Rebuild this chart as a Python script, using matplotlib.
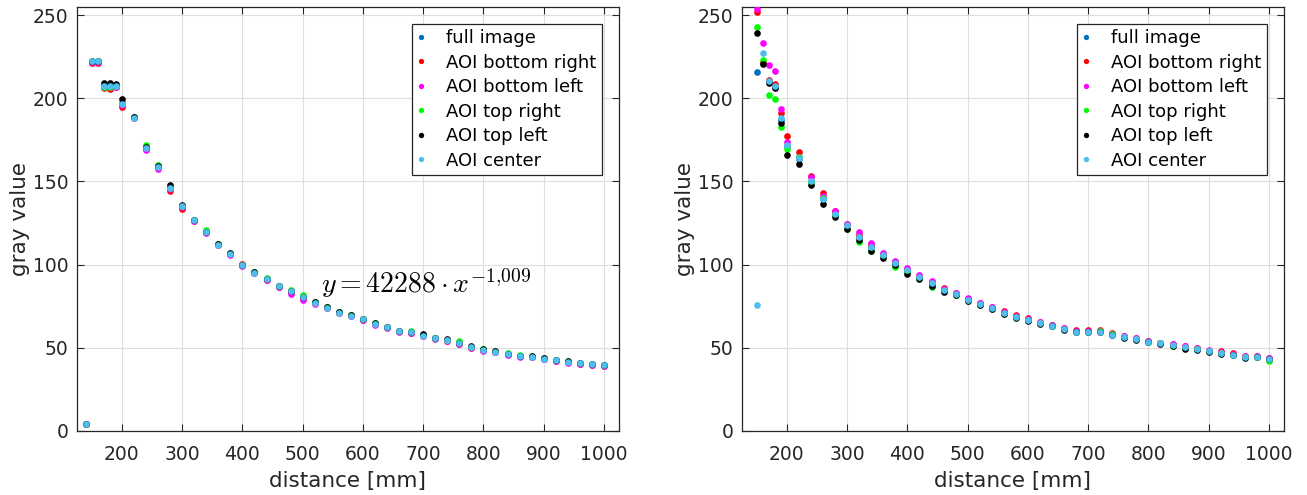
import matplotlib
matplotlib.use("Agg")
import matplotlib.pyplot as plt

plt.rcParams['font.family'] = ['DejaVu Sans']
plt.rcParams['mathtext.fontset'] = 'cm'

# ---------------- data ----------------
dist_left = [140, 150, 160, 170, 180, 190, 200, 220, 240, 260, 280, 300, 320, 340, 360, 380, 400,
             420, 440, 460, 480, 500, 520, 540, 560, 580, 600, 620, 640, 660, 680, 700, 720, 740,
             760, 780, 800, 820, 840, 860, 880, 900, 920, 940, 960, 980, 1000]

full_L = [4.0, 222.0, 222.0, 207.5, 207.5, 207.5, 197.0, 188.5, 170.0, 159.0, 146.5, 135.2, 126.8,
          119.8, 112.2, 106.6, 99.8, 95.3, 91.3, 87.1, 84.1, 80.6, 77.3, 74.4, 71.4, 69.6, 67.3,
          64.6, 62.4, 60.1, 59.3, 57.4, 55.8, 54.6, 52.8, 50.4, 48.9, 47.7, 46.3, 45.1, 44.6, 43.4,
          42.4, 41.7, 40.6, 40.0, 39.4]
br_L = [4.0, 221.3, 221.3, 205.9, 205.8, 207.0, 195.0, 188.0, 169.5, 158.5, 144.0, 133.7, 126.3,
        119.5, 112.0, 106.2, 100.5, 95.0, 91.0, 86.8, 83.6, 80.2, 77.0, 74.0, 71.0, 69.2, 67.0,
        64.3, 62.2, 59.9, 59.0, 57.0, 55.6, 54.2, 52.5, 50.0, 48.7, 47.5, 46.1, 45.0, 44.5, 43.3,
        42.3, 41.5, 40.5, 39.9, 39.2]
bl_L = [4.0, 222.0, 222.0, 206.5, 206.5, 207.0, 196.0, 188.0, 168.7, 157.6, 145.5, 134.5, 126.2,
        119.0, 111.8, 106.0, 99.2, 94.8, 90.8, 86.5, 82.5, 79.0, 76.6, 73.8, 70.8, 69.0, 66.5,
        64.0, 62.0, 59.7, 58.8, 56.9, 55.0, 54.0, 52.2, 49.8, 48.0, 47.2, 45.7, 44.4, 44.2, 43.0,
        42.0, 41.0, 40.2, 39.6, 38.8]
tr_L = [4.0, 222.3, 222.3, 207.0, 207.0, 207.3, 197.0, 188.6, 171.7, 159.8, 146.3, 135.3, 127.0,
        121.0, 112.5, 106.7, 99.8, 95.4, 91.8, 87.2, 85.0, 81.5, 77.5, 74.8, 71.5, 70.0, 67.5,
        64.8, 62.6, 60.3, 60.0, 57.5, 56.0, 54.7, 54.0, 50.5, 49.5, 48.0, 46.6, 45.4, 45.0, 43.8,
        42.8, 42.3, 41.0, 40.5, 39.8]
tl_L = [4.0, 222.3, 222.3, 209.4, 209.4, 208.6, 199.4, 189.0, 170.5, 159.2, 148.0, 135.7, 127.0,
        119.8, 112.3, 107.0, 99.8, 95.8, 91.3, 87.0, 84.0, 80.7, 77.3, 74.4, 71.8, 69.5, 67.3,
        64.7, 62.5, 60.1, 59.3, 58.0, 55.9, 55.5, 52.8, 51.0, 49.0, 47.8, 46.5, 45.3, 44.8, 43.6,
        42.6, 41.8, 40.8, 40.2, 39.6]
ce_L = [4.3, 222.3, 222.3, 207.2, 207.2, 207.3, 196.8, 188.4, 169.9, 158.8, 146.0, 135.0, 126.6,
        119.4, 112.0, 106.4, 99.5, 95.1, 91.1, 86.9, 83.9, 80.5, 77.1, 74.2, 71.2, 69.4, 67.2,
        64.5, 62.3, 60.0, 59.2, 57.2, 55.8, 54.4, 52.6, 50.2, 48.9, 47.7, 46.4, 45.2, 44.7, 43.5,
        42.5, 41.7, 40.7, 40.1, 39.5]

dist_right = [150, 160, 170, 180, 190, 200, 220, 240, 260, 280, 300, 320, 340, 360, 380, 400,
              420, 440, 460, 480, 500, 520, 540, 560, 580, 600, 620, 640, 660, 680, 700, 720, 740,
              760, 780, 800, 820, 840, 860, 880, 900, 920, 940, 960, 980, 1000]

full_R = [216.0, 221.0, 210.0, 207.0, 187.0, 171.0, 163.5, 150.5, 139.7, 130.5, 123.5, 116.5, 110.5,
          105.7, 100.7, 96.6, 92.6, 88.6, 84.8, 82.2, 78.6, 76.4, 73.9, 70.9, 68.6, 66.8, 65.1,
          63.2, 61.2, 59.5, 59.5, 59.6, 57.8, 56.4, 55.2, 53.6, 52.6, 51.6, 50.2, 49.4, 47.8, 46.6,
          45.8, 44.7, 44.5, 43.5]
br_R = [251.9, 222.0, 211.1, 208.3, 191.3, 177.4, 167.8, 153.1, 143.1, 132.0, 124.3, 118.0, 112.0,
        106.5, 101.5, 97.2, 93.3, 89.5, 85.9, 83.0, 79.3, 77.0, 74.8, 72.1, 69.8, 68.0, 65.8,
        63.8, 61.8, 60.6, 60.6, 60.6, 59.0, 57.0, 55.8, 54.2, 53.0, 52.0, 50.8, 49.8, 48.3, 47.8,
        46.7, 45.2, 44.9, 44.0]
bl_R = [253.8, 233.2, 219.9, 216.3, 193.7, 173.8, 164.5, 152.5, 141.0, 132.3, 124.6, 119.4, 112.8,
        107.0, 102.2, 97.7, 93.7, 90.1, 85.5, 82.8, 79.7, 76.8, 74.5, 71.6, 69.2, 67.5, 65.6,
        63.6, 61.6, 60.2, 60.2, 60.3, 58.5, 56.8, 55.6, 54.0, 53.0, 52.2, 51.0, 49.8, 48.6, 47.2,
        46.3, 45.0, 44.8, 43.9]
tr_R = [242.8, 223.2, 201.9, 199.5, 182.8, 169.6, 164.8, 149.6, 140.0, 130.0, 121.6, 113.8, 108.2,
        105.0, 98.3, 95.5, 92.0, 86.3, 84.0, 81.8, 78.3, 76.0, 73.6, 70.6, 68.3, 66.5, 65.0,
        63.1, 61.0, 59.5, 59.6, 59.8, 58.0, 56.4, 55.2, 53.5, 52.6, 51.0, 50.0, 49.2, 47.8, 46.6,
        45.8, 44.7, 44.5, 42.0]
tl_R = [239.4, 220.8, 209.1, 205.9, 184.8, 166.0, 160.3, 147.9, 136.5, 128.6, 121.6, 115.0, 108.2,
        104.2, 99.5, 94.5, 91.3, 87.0, 83.5, 81.5, 78.0, 75.6, 73.4, 70.4, 68.0, 66.3, 64.4,
        62.8, 60.7, 59.2, 59.2, 59.4, 57.4, 55.8, 54.6, 53.2, 52.3, 51.3, 49.2, 48.4, 47.6, 46.4,
        45.5, 44.1, 44.2, 43.3]
ce_R = [76.0, 227.0, 210.3, 207.1, 188.0, 171.6, 163.8, 150.5, 139.7, 130.6, 123.6, 116.8, 110.6,
        105.8, 100.8, 96.7, 92.7, 88.7, 84.9, 82.3, 78.7, 76.5, 73.9, 70.9, 68.6, 66.8, 65.2,
        63.3, 61.2, 59.4, 59.4, 59.6, 57.8, 56.4, 55.2, 53.6, 52.6, 51.6, 50.2, 49.4, 47.8, 46.6,
        45.8, 44.7, 44.5, 43.5]

labels = ['full image', 'AOI bottom right', 'AOI bottom left', 'AOI top right',
          'AOI top left', 'AOI center']
colors = ['#0072BD', '#FF0000', '#FF00FF', '#00FF00', '#000000', '#4DBEEE']

x_ticks = [200, 300, 400, 500, 600, 700, 800, 900, 1000]
y_ticks = [0, 50, 100, 150, 200, 250]
equation = r'$y = 42288 \cdot x^{-1{,}009}$'

# ---------------- figure ----------------
fig = plt.figure(figsize=(13.07, 4.95), dpi=100)
ax_l = fig.add_axes([0.0587, 0.1293, 0.4149, 0.8572])
ax_r = fig.add_axes([0.5675, 0.1293, 0.4149, 0.8572])

axis_col = '#262626'

def style(ax, dist, series):
    for ys, lab, col in zip(series, labels, colors):
        ax.plot(dist, ys, linestyle='none', marker='o', markersize=4.8,
                markeredgewidth=0, color=col, label=lab, zorder=3)
    ax.set_xlim(125, 1025)
    ax.set_ylim(0, 255)
    ax.set_xticks(x_ticks)
    ax.set_yticks(y_ticks)
    ax.grid(True, color='#dedede', linewidth=0.8, zorder=0)
    ax.set_axisbelow(True)
    ax.tick_params(direction='in', length=5, width=0.8, top=True, right=True,
                   labelsize=13.5, colors=axis_col, pad=6)
    ax.tick_params(axis='x', pad=10)
    for sp in ax.spines.values():
        sp.set_color(axis_col)
        sp.set_linewidth(0.9)
    ax.set_xlabel('distance [mm]', fontsize=15.5, color=axis_col, labelpad=5)
    ax.set_ylabel('gray value', fontsize=15.5, color=axis_col, labelpad=2)
    leg = ax.legend(loc='upper right', fontsize=13, frameon=True, fancybox=False,
                    framealpha=1, edgecolor=axis_col, borderaxespad=0.95,
                    handlelength=0.45, handletextpad=1.15, borderpad=0.3,
                    labelspacing=0.36, markerscale=0.8)
    leg.get_frame().set_linewidth(0.9)
    for t in leg.get_texts():
        t.set_color('#000000')

style(ax_l, dist_left, [full_L, br_L, bl_L, tr_L, tl_L, ce_L])
style(ax_r, dist_right, [full_R, br_R, bl_R, tr_R, tl_R, ce_R])

ax_l.text(530, 83, equation, fontsize=20, ha='left', va='baseline', color='#000000', zorder=4)

fig.savefig('out.png', dpi=100)
